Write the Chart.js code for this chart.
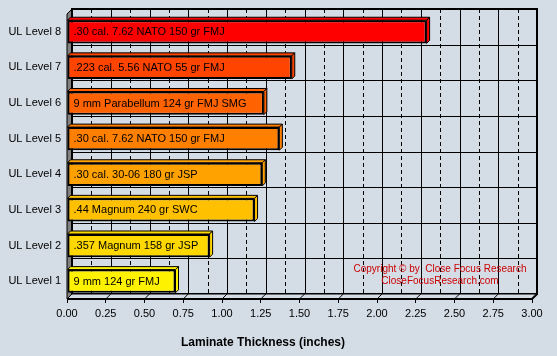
<!DOCTYPE html>
<html><head><meta charset="utf-8">
<script src="https://cdn.jsdelivr.net/npm/chart.js@4/dist/chart.umd.min.js"></script>
<style>html,body{margin:0;padding:0;background:#D4DCE6;overflow:hidden}canvas{display:block}</style>
</head><body>
<canvas id="c" width="557" height="356"></canvas>
<script>
const categories = ['UL Level 8','UL Level 7','UL Level 6','UL Level 5','UL Level 4','UL Level 3','UL Level 2','UL Level 1'];
const thickness = [2.32, 1.45, 1.27, 1.37, 1.26, 1.21, 0.92, 0.70];
const barLabels = ['.30 cal. 7.62 NATO 150 gr FMJ','.223 cal. 5.56 NATO 55 gr FMJ','9 mm Parabellum 124 gr FMJ SMG','.30 cal. 7.62 NATO 150 gr FMJ','.30 cal. 30-06 180 gr JSP','.44 Magnum 240 gr SWC','.357 Magnum 158 gr JSP','9 mm 124 gr FMJ'];
const barColors = ['#FF0000','#FF4400','#FF6200','#FF7F00','#FFA200','#FFC000','#FFD800','#FFF200'];
const xMin = 0, xMax = 3, xStep = 0.25;
const axisTitle = 'Laminate Thickness (inches)';
const copyright = ['Copyright \u00A9 by  Close Focus Research','CloseFocusResearch.com'];

const BG = '#D4DCE6';
const FONT = 'Arial, "Liberation Sans", sans-serif';
const DX = 5, DY = 5, BD = 3;

function poly(ctx, pts){ctx.beginPath();ctx.moveTo(pts[0][0],pts[0][1]);for(let i=1;i<pts.length;i++)ctx.lineTo(pts[i][0],pts[i][1]);ctx.closePath();}

const depth3D = {
  id:'depth3D',
  beforeDatasetsDraw(chart){
    const {ctx, chartArea:{left:L,right:R,top:T,bottom:B}, scales:{x,y}} = chart;
    ctx.save();
    ctx.fillStyle='#808080'; ctx.strokeStyle='#000'; ctx.lineWidth=1;
    poly(ctx,[[L,T],[L+DX,T-DY],[L+DX,B-DY],[L,B]]); ctx.fill(); ctx.stroke();
    const nT = Math.round((xMax-xMin)/xStep);
    ctx.setLineDash([4,3]); ctx.lineWidth=1;
    for(let i=0;i<nT;i++){
      const px = Math.round(x.getPixelForValue(xMin+(i+0.5)*xStep)+DX)+0.5;
      ctx.beginPath();ctx.moveTo(px,T-DY);ctx.lineTo(px,B-DY);ctx.stroke();
    }
    ctx.setLineDash([]);
    for(let i=1;i<nT;i++){
      const px = Math.round(x.getPixelForValue(xMin+i*xStep)+DX)+0.5;
      ctx.beginPath();ctx.moveTo(px,T-DY);ctx.lineTo(px,B-DY);ctx.stroke();
    }
    for(let i=1;i<categories.length;i++){
      const py = Math.round((y.getPixelForValue(i-1)+y.getPixelForValue(i))/2-DY)+0.5;
      ctx.beginPath();ctx.moveTo(L+DX,py);ctx.lineTo(R+DX,py);ctx.stroke();
    }
    ctx.lineWidth=2;
    ctx.strokeRect(L+DX,T-DY,R-L,B-T);
    ctx.lineWidth=1; ctx.fillStyle=BG;
    poly(ctx,[[L,B],[L+DX,B-DY],[R+DX,B-DY],[R,B]]); ctx.fill(); ctx.stroke();
    for(let i=0;i<=nT;i++){
      const px = x.getPixelForValue(xMin+i*xStep);
      ctx.beginPath();ctx.moveTo(px,B);ctx.lineTo(px+DX,B-DY);ctx.stroke();
    }
    ctx.lineWidth=2;
    ctx.beginPath();ctx.moveTo(L,B);ctx.lineTo(R,B);ctx.lineTo(R+DX,B-DY);ctx.lineTo(R+DX,T-DY);ctx.stroke();
    const meta = chart.getDatasetMeta(0);
    ctx.lineWidth=1;
    meta.data.forEach((el,i)=>{
      const p = el.getProps(['x','y','base','height'],true);
      const top = p.y-p.height/2, bot = p.y+p.height/2;
      ctx.fillStyle = barColors[i]; ctx.strokeStyle='#000';
      poly(ctx,[[p.base,top],[p.base+BD,top-BD],[p.x+BD,top-BD],[p.x,top]]); ctx.fill(); ctx.stroke();
      poly(ctx,[[p.x,top],[p.x+BD,top-BD],[p.x+BD,bot-BD],[p.x,bot]]); ctx.fill(); ctx.stroke();
    });
    ctx.restore();
  },
  afterDatasetsDraw(chart){
    const {ctx} = chart;
    const meta = chart.getDatasetMeta(0);
    ctx.save();
    ctx.font = '11px '+FONT; ctx.fillStyle='#000'; ctx.textBaseline='middle'; ctx.textAlign='left';
    meta.data.forEach((el,i)=>{
      const p = el.getProps(['x','y','base'],true);
      ctx.fillText(barLabels[i], p.base+6, p.y+0.5);
    });
    ctx.restore();
  },
  afterDraw(chart){
    const {ctx} = chart;
    ctx.save();
    ctx.fillStyle='#000'; ctx.font='bold 12px '+FONT; ctx.textAlign='center'; ctx.textBaseline='middle';
    ctx.fillText(axisTitle, 263, 343);
    ctx.fillStyle='#CC0000'; ctx.font='10px '+FONT;
    ctx.fillText(copyright[0], 440, 269);
    ctx.fillText(copyright[1], 440, 281);
    ctx.restore();
  }
};

new Chart(document.getElementById('c'), {
  type:'bar',
  data:{labels:categories, datasets:[{data:thickness, backgroundColor:barColors, borderColor:'#000', borderWidth:2, borderSkipped:false, barPercentage:0.65, categoryPercentage:1}]},
  options:{
    indexAxis:'y', responsive:false, animation:false, devicePixelRatio:1,
    layout:{padding:{top:14,right:25,left:0,bottom:0}},
    plugins:{legend:{display:false}, tooltip:{enabled:false}},
    scales:{
      x:{min:xMin,max:xMax,
        ticks:{stepSize:xStep, color:'#000', font:{family:FONT,size:11}, padding:4, maxRotation:0, callback:v=>Number(v).toFixed(2)},
        grid:{drawOnChartArea:false, drawTicks:true, tickLength:4, color:'#000'},
        border:{display:false},
        afterFit(s){s.height=57;}
      },
      y:{ticks:{color:'#000', font:{family:FONT,size:11}, padding:6},
        grid:{display:true, drawOnChartArea:false, drawTicks:false}, border:{display:false},
        afterFit(s){s.width=67;}
      }
    }
  },
  plugins:[depth3D]
});
</script>
</body></html>
